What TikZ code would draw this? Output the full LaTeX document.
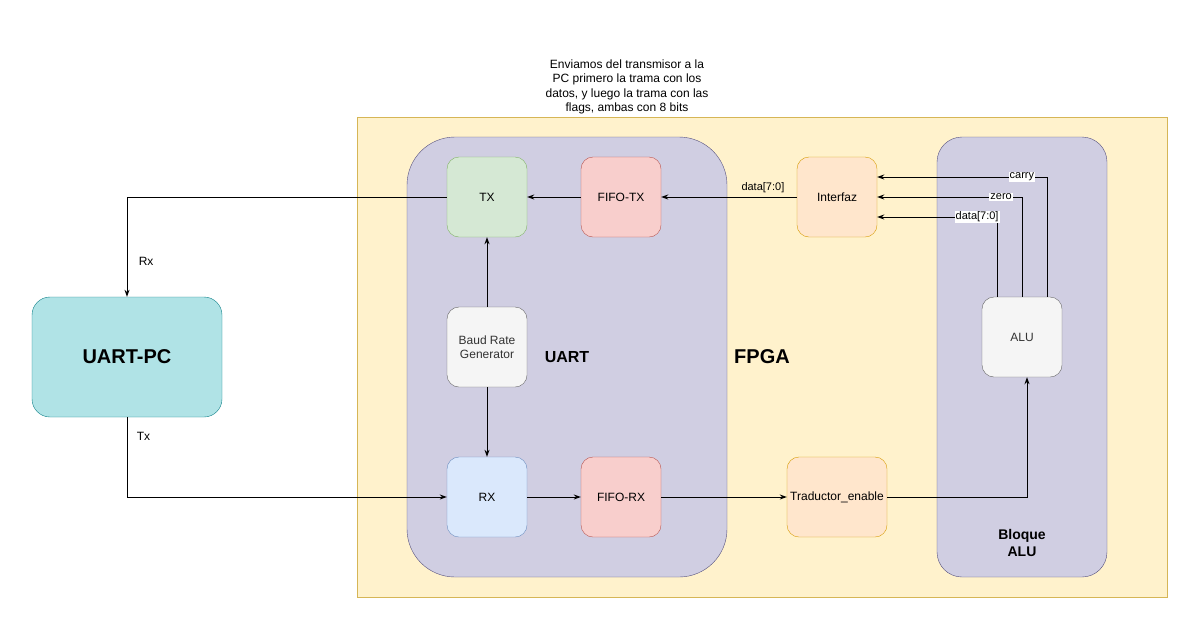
\documentclass[tikz,border=0pt]{standalone}
\usepackage{fontspec}
\setmainfont{Liberation Sans}
\usepackage{tikz}
\usetikzlibrary{positioning,arrows.meta}
\definecolor{fpgafill}{HTML}{FFF2CC}
\definecolor{fpgaline}{HTML}{D6B656}
\definecolor{uartfill}{HTML}{D0CEE2}
\definecolor{uartline}{HTML}{56517E}
\definecolor{txfill}{HTML}{D5E8D4}
\definecolor{txline}{HTML}{82B366}
\definecolor{fifofill}{HTML}{F8CECC}
\definecolor{fifoline}{HTML}{B85450}
\definecolor{orfill}{HTML}{FFE6CC}
\definecolor{orline}{HTML}{D79B00}
\definecolor{greyfill}{HTML}{F5F5F5}
\definecolor{greyline}{HTML}{666666}
\definecolor{greytext}{HTML}{333333}
\definecolor{rxfill}{HTML}{DAE8FC}
\definecolor{rxline}{HTML}{6C8EBF}
\definecolor{pcfill}{HTML}{B0E3E6}
\definecolor{pcline}{HTML}{0E8088}

\begin{document}
\begin{tikzpicture}[x=1pt,y=-1pt,font=\fontsize{12}{14.5}\selectfont,>={Stealth[length=7pt,width=5pt]}]
            \tikzstyle{block}=[rectangle,draw,rounded corners=12,minimum width=80,minimum height=80,inner sep=0]
            \tikzstyle{wire}=[->,line width=0.9]
            \tikzstyle{sig}=[font=\fontsize{11}{13}\selectfont,fill=white,inner sep=1]
            \useasboundingbox (0,0) rectangle (1201,630);
            \node(fpga)[rectangle,draw=fpgaline,fill=fpgafill,minimum width=810,minimum height=480] at (762,357){\fontsize{20}{24}\selectfont\bfseries FPGA};
            \node(note)[align=center] at (627,87){Enviamos del transmisor a la\\PC primero la trama con los\\datos, y luego la trama con las\\flags, ambas con 8 bits};
            \node(uart)[rectangle,draw=uartline,fill=uartfill,rounded corners=48,minimum width=320,minimum height=440] at (567,357){\fontsize{16}{19}\selectfont\bfseries UART};
            \node(bloque)[rectangle,draw=uartline,fill=uartfill,rounded corners=25,minimum width=170,minimum height=440] at (1022,357){};
            \node(bloquetxt)[align=center,font=\fontsize{14}{17}\selectfont\bfseries] at (1022,543){Bloque\\ALU};
            \node(tx)[block,draw=txline,fill=txfill] at (487,197){TX};
            \node(fifotx)[block,draw=fifoline,fill=fifofill] at (621,197){FIFO-TX};
            \node(interfaz)[block,draw=orline,fill=orfill] at (837,197){Interfaz};
            \node(baud)[block,draw=greyline,fill=greyfill,text=greytext,align=center] at (487,347){Baud Rate\\Generator};
            \node(rx)[block,draw=rxline,fill=rxfill] at (487,497){RX};
            \node(fiforx)[block,draw=fifoline,fill=fifofill] at (621,497){FIFO-RX};
            \node(traductor)[block,draw=orline,fill=orfill,minimum width=100] at (837,497){Traductor\_enable};
            \node(alu)[block,draw=greyline,fill=greyfill,text=greytext] at (1022,337){ALU};
            \node(uartpc)[rectangle,draw=pcline,fill=pcfill,rounded corners=18,minimum width=190,minimum height=120] at (127,357){\fontsize{20}{24}\selectfont\bfseries UART-PC};
            % transmit path
            \draw[wire] (interfaz) -- node[pos=0.25,above,font=\fontsize{11}{13}\selectfont]{data[7:0]} (fifotx);
            \draw[wire] (fifotx) -- (tx);
            \draw[wire] (tx.west) -| node[pos=0.82,right=8]{Rx} (uartpc.north);
            \draw[wire] (baud) -- (tx);
            \draw[wire] (baud) -- (rx);
            % receive path
            \draw[wire] (uartpc.south) |- node[pos=0.12,right=6]{Tx} (rx.west);
            \draw[wire] (rx) -- (fiforx);
            \draw[wire] (fiforx) -- (traductor);
            \draw[wire] (traductor.east) -| ([xshift=5]alu.south);
            % alu outputs
            \draw[wire] ([xshift=-25]alu.north) |- node[pos=0.583,sig]{data[7:0]} ([yshift=-20]interfaz.east);
            \draw[wire] (alu.north) |- node[pos=0.572,sig]{zero} (interfaz.east);
            \draw[wire] ([xshift=25]alu.north) |- node[pos=0.574,sig]{carry} ([yshift=20]interfaz.east);
          \end{tikzpicture}
\end{document}
